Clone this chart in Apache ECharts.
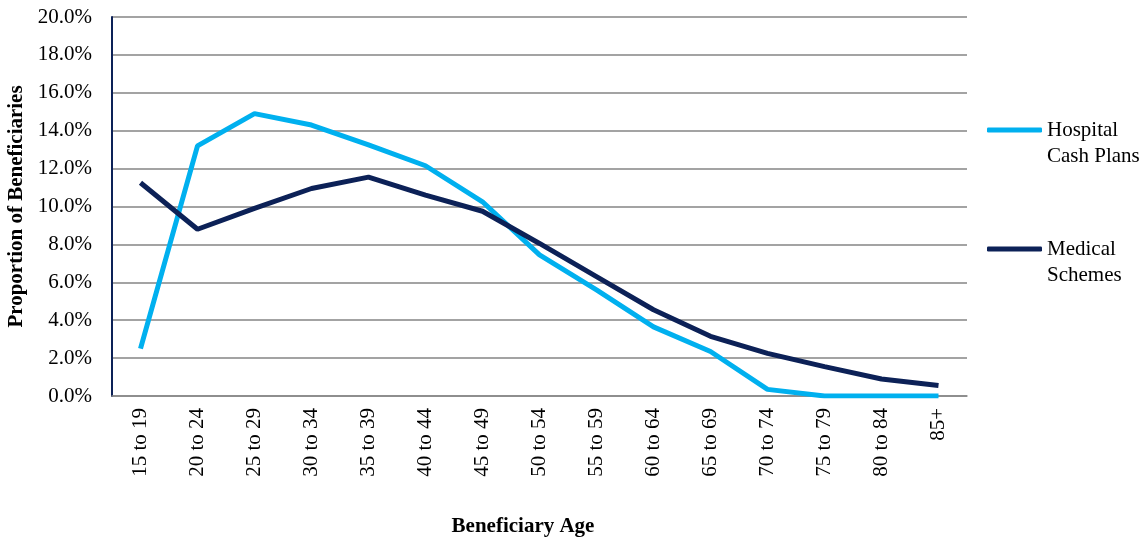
<!DOCTYPE html>
<html>
<head>
<meta charset="utf-8">
<script src="https://cdn.jsdelivr.net/npm/echarts@6/dist/echarts.min.js"></script>
<style>
* { margin: 0; padding: 0; }
html, body { background: #fff; }
</style>
</head>
<body>
<!-- chart container -->
<div id="chart" style="width:1145px;height:543px;"></div>
<script>
var ageGroups = ['15 to 19', '20 to 24', '25 to 29', '30 to 34', '35 to 39', '40 to 44', '45 to 49',
  '50 to 54', '55 to 59', '60 to 64', '65 to 69', '70 to 74', '75 to 79', '80 to 84', '85+'];
var hospitalCash = [2.5, 13.2, 14.9, 14.3, 13.25, 12.15, 10.25, 7.45, 5.6, 3.65, 2.35, 0.35, 0.0, 0.0, 0.0];
var medicalSchemes = [11.25, 8.8, 9.9, 10.95, 11.55, 10.6, 9.75, 8.05, 6.3, 4.55, 3.15, 2.25, 1.55, 0.9, 0.55];
var seriesNames = ['Hospital Cash Plans', 'Medical Schemes'];
var legendLabels = { 'Hospital Cash Plans': 'Hospital\nCash Plans', 'Medical Schemes': 'Medical\nSchemes' };

var font = 'Liberation Serif, Times New Roman, serif';
var chart = echarts.init(document.getElementById('chart'));

var option = {
  animation: false,
  textStyle: { fontFamily: font },
  grid: { left: 112, right: 178, top: 17, bottom: 147, outerBoundsMode: 'none' },
  legend: {
    orient: 'vertical',
    left: 982,
    top: 86,
    itemWidth: 55,
    itemHeight: 5,
    itemGap: 41,
    icon: 'roundRect',
    data: seriesNames,
    // blank first line keeps the icon level with the first text line
    formatter: function (name) {
      return '\n' + legendLabels[name];
    },
    textStyle: { fontFamily: font, fontSize: 21, color: '#000', lineHeight: 26 }
  },
  xAxis: {
    type: 'category',
    data: ageGroups,
    boundaryGap: true,
    name: 'Beneficiary Age',
    nameLocation: 'middle',
    nameGap: 120,
    nameTextStyle: { fontFamily: font, fontSize: 21, fontWeight: 'bold', color: '#000', padding: [0, 33, 0, 0] },
    axisLine: { lineStyle: { color: '#888', width: 1.5 } },
    axisTick: { show: false },
    axisLabel: { rotate: 90, margin: 12, fontSize: 21, color: '#000', fontFamily: font, interval: 0 }
  },
  yAxis: {
    type: 'value',
    min: 0,
    max: 20,
    interval: 2,
    name: 'Proportion of Beneficiaries',
    nameLocation: 'middle',
    nameGap: 82,
    nameTextStyle: { fontFamily: font, fontSize: 21, fontWeight: 'bold', color: '#000' },
    axisLine: { show: true, lineStyle: { color: '#0c2157', width: 2 } },
    axisTick: { show: false },
    axisLabel: {
      margin: 20,
      fontSize: 21,
      color: '#000',
      fontFamily: font,
      formatter: function (v) { return v.toFixed(1) + '%'; }
    },
    splitLine: { lineStyle: { color: '#858585', width: 1.5 } }
  },
  series: [
    {
      name: seriesNames[0],
      type: 'line',
      data: hospitalCash,
      symbol: 'none',
      itemStyle: { color: '#00b0ef' },
      lineStyle: { color: '#00b0ef', width: 5 }
    },
    {
      name: seriesNames[1],
      type: 'line',
      data: medicalSchemes,
      symbol: 'none',
      itemStyle: { color: '#0c2157' },
      lineStyle: { color: '#0c2157', width: 5 }
    }
  ]
};

chart.setOption(option);
</script>
</body>
</html>
